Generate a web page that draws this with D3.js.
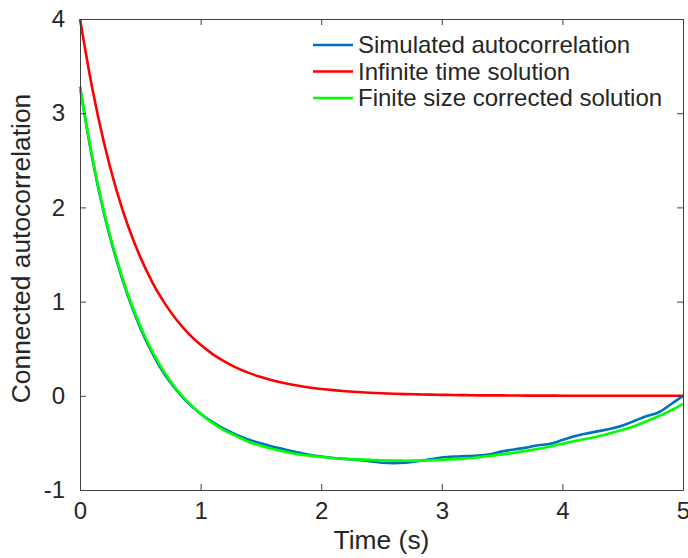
<!DOCTYPE html>
<html lang="en">
<head>
<meta charset="utf-8">
<title>Connected autocorrelation</title>
<script src="https://d3js.org/d3.v7.min.js"></script>
<style>
	body { margin: 0; background: #fff; }
	svg text { font-family: "Liberation Sans", Arial, Helvetica, sans-serif; fill: #262626; }
</style>
</head>
<body>
<div id="chart"></div>
<script>
// time samples (s)
var times = d3.range(0, 51).map(function (i) { return i / 10; });

var simulated = [
	3.28, 2.53, 1.93, 1.45, 1.05, 0.72, 0.45, 0.23, 0.06, -0.08,
	-0.19, -0.28, -0.355, -0.415, -0.465, -0.505, -0.54, -0.57, -0.60, -0.625,
	-0.645, -0.66, -0.67, -0.68, -0.695, -0.71, -0.715, -0.71, -0.695, -0.675,
	-0.655, -0.645, -0.64, -0.635, -0.62, -0.59, -0.57, -0.55, -0.525, -0.51,
	-0.47, -0.43, -0.40, -0.375, -0.35, -0.315, -0.265, -0.215, -0.175, -0.09,
	0.0
];

var infiniteTime = [
	4.000, 3.275, 2.681, 2.195, 1.797, 1.472, 1.205, 0.986, 0.808, 0.661,
	0.541, 0.443, 0.363, 0.297, 0.243, 0.199, 0.163, 0.134, 0.109, 0.089,
	0.073, 0.060, 0.049, 0.040, 0.033, 0.027, 0.022, 0.018, 0.015, 0.012,
	0.010, 0.008, 0.007, 0.005, 0.004, 0.004, 0.003, 0.002, 0.002, 0.002,
	0.001, 0.001, 0.001, 0.001, 0.001, 0.000, 0.000, 0.000, 0.000, 0.000,
	0.000
];

var finiteSize = [
	3.28, 2.55, 1.95, 1.47, 1.07, 0.74, 0.47, 0.25, 0.07, -0.07,
	-0.19, -0.29, -0.37, -0.43, -0.49, -0.53, -0.565, -0.595, -0.62, -0.635,
	-0.65, -0.66, -0.67, -0.675, -0.68, -0.685, -0.688, -0.69, -0.688, -0.685,
	-0.68, -0.672, -0.664, -0.652, -0.638, -0.622, -0.605, -0.585, -0.563, -0.538,
	-0.51, -0.48, -0.455, -0.43, -0.395, -0.36, -0.32, -0.27, -0.215, -0.155,
	-0.085
];

var seriesNames = ["Simulated autocorrelation", "Infinite time solution", "Finite size corrected solution"];
var seriesColors = ["#0072BD", "#FF0000", "#00FF00"];
var xTicks = [0, 1, 2, 3, 4, 5];
var yTicks = [-1, 0, 1, 2, 3, 4];

var W = 688, H = 558;
var margin = { top: 19, right: 5, bottom: 68, left: 80 };
var width = W - margin.left - margin.right;
var height = H - margin.top - margin.bottom;

var svg = d3.select("#chart").append("svg")
	.attr("width", W)
	.attr("height", H)
	.append("g")
	.attr("transform", "translate(" + margin.left + "," + margin.top + ")");

var x = d3.scaleLinear().domain([0, 5]).range([0, width]);
var y = d3.scaleLinear().domain([-1, 4]).range([height, 0]);

// plain hyphen for negatives, like the original figure
var plainFormat = function (d) { return String(d); };

svg.append("defs").append("clipPath")
	.attr("id", "clip")
	.append("rect")
	.attr("x", -2).attr("y", -2)
	.attr("width", width + 4).attr("height", height + 4);

// curves (drawn first, axes box on top)
var allSeries = [simulated, infiniteTime, finiteSize];
var line = d3.line()
	.x(function (d) { return x(d.t); })
	.y(function (d) { return y(d.v); })
	.curve(d3.curveMonotoneX);

// draw order: red, blue, green (green on top)
[1, 0, 2].forEach(function (k) {
	var pts = times.map(function (t, i) { return { t: t, v: allSeries[k][i] }; });
	svg.append("path")
		.datum(pts)
		.attr("fill", "none")
		.attr("stroke", seriesColors[k])
		.attr("stroke-width", 2.6)
		.attr("clip-path", "url(#clip)")
		.attr("d", line);
});

// axes: box with inward ticks
var axisColor = "#404040";
var tickLen = 6;

svg.append("g")
	.attr("transform", "translate(0," + height + ")")
	.call(d3.axisBottom(x).tickValues(xTicks).tickSizeInner(-tickLen).tickSizeOuter(0).tickPadding(12).tickFormat(plainFormat))
	.call(function (g) {
		g.select(".domain").attr("stroke", axisColor);
		g.selectAll(".tick line").attr("stroke", axisColor);
		g.selectAll(".tick text").attr("font-size", 24).attr("fill", "#262626");
	});

svg.append("g")
	.call(d3.axisTop(x).tickValues(xTicks).tickSizeInner(-tickLen).tickSizeOuter(0).tickFormat(""))
	.call(function (g) {
		g.select(".domain").attr("stroke", axisColor);
		g.selectAll(".tick line").attr("stroke", axisColor);
	});

svg.append("g")
	.call(d3.axisLeft(y).tickValues(yTicks).tickSizeInner(-tickLen).tickSizeOuter(0).tickPadding(15).tickFormat(plainFormat))
	.call(function (g) {
		g.select(".domain").attr("stroke", axisColor);
		g.selectAll(".tick line").attr("stroke", axisColor);
		g.selectAll(".tick text").attr("font-size", 24).attr("fill", "#262626");
	});

svg.append("g")
	.attr("transform", "translate(" + width + ",0)")
	.call(d3.axisRight(y).tickValues(yTicks).tickSizeInner(-tickLen).tickSizeOuter(0).tickFormat(""))
	.call(function (g) {
		g.select(".domain").attr("stroke", axisColor);
		g.selectAll(".tick line").attr("stroke", axisColor);
	});

// axis labels
svg.append("text")
	.attr("x", width / 2)
	.attr("y", height + 59)
	.attr("text-anchor", "middle")
	.attr("font-size", 26.4)
	.text("Time (s)");

svg.append("text")
	.attr("transform", "translate(-50," + (height / 2 - 6) + ") rotate(-90)")
	.attr("text-anchor", "middle")
	.attr("font-size", 26.4)
	.text("Connected autocorrelation");

// legend (no box)
var legend = svg.append("g")
	.attr("transform", "translate(" + (313 - margin.left) + "," + (45 - margin.top) + ")");

seriesNames.forEach(function (name, i) {
	var row = legend.append("g").attr("transform", "translate(0," + (i * 26.5) + ")");
	row.append("line")
		.attr("x1", 0).attr("x2", 40)
		.attr("y1", 0).attr("y2", 0)
		.attr("stroke", seriesColors[i])
		.attr("stroke-width", 2.6);
	row.append("text")
		.attr("x", 45)
		.attr("y", 0)
		.attr("dy", "0.35em")
		.attr("font-size", 24)
		.text(name);
});
</script>
</body>
</html>
